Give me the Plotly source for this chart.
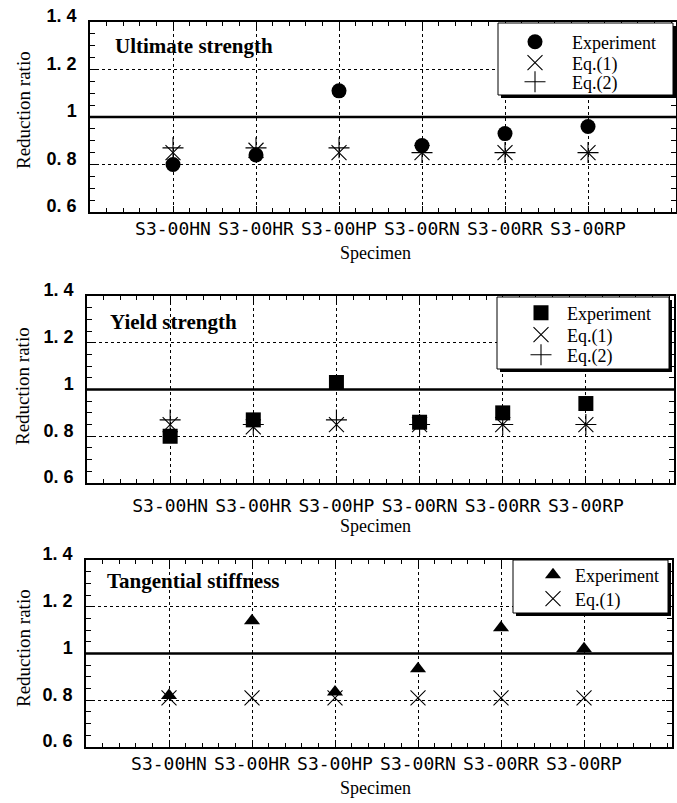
import plotly.graph_objects as go

# ---------------- data ----------------
specimens = ["S3-00HN", "S3-00HR", "S3-00HP", "S3-00RN", "S3-00RR", "S3-00RP"]

ult_experiment = [0.80, 0.84, 1.11, 0.88, 0.93, 0.96]
ult_eq1 = [0.85, 0.86, 0.85, 0.85, 0.85, 0.85]
ult_eq2 = [0.87, 0.87, 0.87, 0.85, 0.85, 0.85]

yld_experiment = [0.80, 0.87, 1.03, 0.86, 0.90, 0.94]
yld_eq1 = [0.85, 0.84, 0.85, 0.85, 0.85, 0.85]
yld_eq2 = [0.87, 0.85, 0.87, 0.85, 0.85, 0.85]

stf_experiment = [0.82, 1.14, 0.835, 0.935, 1.11, 1.02]
stf_eq1 = [0.81, 0.81, 0.81, 0.81, 0.81, 0.81]

y_tickvals = [0.6, 0.8, 1.0, 1.2, 1.4]
y_ticktext = ["0. 6", "0. 8", "1", "1. 2", "1. 4"]

panel_titles = ["Ultimate strength", "Yield strength", "Tangential stiffness"]
series_names = ["Experiment", "Eq.(1)", "Eq.(2)"]
axis_title_y = "Reduction ratio"
axis_title_x = "Specimen"

# ---------------- layout helpers ----------------
W, H = 677, 803
def px(x):
    return x / W
def py(y):
    return 1 - y / H

SERIF = "Liberation Serif, Times New Roman, serif"
x_idx = list(range(len(specimens)))

fig = go.Figure()

panels = [
    dict(exp=ult_experiment, eqs=[ult_eq1, ult_eq2], symbol="circle", esize=15,
         xd=(90, 676), yd=(212, 22),
         box=(498, 23, 673, 95), sym_x=535, gap=37, rows=[42, 63, 82],
         title_xy=(113, 46), ytitle_y=110, xtitle_y=253, xstand=0),
    dict(exp=yld_experiment, eqs=[yld_eq1, yld_eq2], symbol="square", esize=15,
         xd=(87, 674), yd=(483, 296),
         box=(497, 297, 669, 369), sym_x=541, gap=26, rows=[313, 335, 355],
         title_xy=(108, 322), ytitle_y=386, xtitle_y=526, xstand=6),
    dict(exp=stf_experiment, eqs=[stf_eq1], symbol="triangle-up", esize=14,
         xd=(86, 672), yd=(747, 560),
         box=(513, 560, 668, 613), sym_x=553, gap=22, rows=[575, 599],
         title_xy=(105, 581), ytitle_y=648, xtitle_y=788, xstand=0),
]

eq_symbols = ["x-thin-open", "cross-thin-open"]

shapes = []
annotations = []
legend_count = 0

def new_legend(p, row):
    global legend_count
    legend_count += 1
    name = "legend" if legend_count == 1 else "legend" + str(legend_count)
    iw = max(30, 2 * (p["gap"] - 5))
    left = p["sym_x"] - iw / 2 - 5
    fig.update_layout(**{name: dict(
        x=px(left), y=py(p["rows"][row]), xanchor="left", yanchor="middle",
        bgcolor="rgba(0,0,0,0)", borderwidth=0, itemwidth=iw, tracegroupgap=0,
        font=dict(family=SERIF, size=18, color="black"))})
    return name

for i, p in enumerate(panels):
    n = "" if i == 0 else str(i + 1)
    xa, ya = "x" + n, "y" + n
    leg_exp = new_legend(p, 0)
    leg_eq = [new_legend(p, k + 1) for k in range(len(p["eqs"]))]
    # equation markers first (drawn underneath experiment markers)
    for k, eq in enumerate(p["eqs"]):
        fig.add_trace(go.Scatter(
            x=x_idx, y=eq, mode="markers", name=series_names[k + 1],
            xaxis=xa, yaxis=ya, legend=leg_eq[k],
            marker=dict(symbol=eq_symbols[k], size=15, color="black",
                        line=dict(color="black", width=1.1)),
            showlegend=True))
    fig.add_trace(go.Scatter(
        x=x_idx, y=p["exp"], mode="markers", name=series_names[0],
        xaxis=xa, yaxis=ya, legend=leg_exp,
        marker=dict(symbol=p["symbol"], size=p["esize"], color="black",
                    line=dict(width=0)),
        showlegend=True))

    axcommon = dict(showline=True, linecolor="black", linewidth=1.5, mirror="ticks",
                    ticks="inside", tickcolor="black", showgrid=True, automargin=False,
                    gridcolor="black", griddash="dot", gridwidth=1, zeroline=False)
    fig.update_layout(**{
        "xaxis" + n: dict(axcommon, domain=[px(p["xd"][0]), px(p["xd"][1])],
                          anchor=ya, range=[-1.0, 6.06], tickmode="array",
                          tickvals=x_idx, ticktext=specimens, ticklen=6,
                          ticklabelstandoff=p["xstand"],
                          tickfont=dict(family="DejaVu Sans Mono", size=18, color="black"),
                          minor=dict(ticks="inside", tickmode="linear", tick0=0, dtick=0.2,
                                     ticklen=4, tickcolor="black", showgrid=False)),
        "yaxis" + n: dict(axcommon, domain=[py(p["yd"][0]), py(p["yd"][1])],
                          anchor=xa, range=[0.6, 1.4], tickmode="array",
                          tickvals=y_tickvals, ticktext=y_ticktext, ticklen=6,
                          ticklabelstandoff=8, ticklabelshift=-6,
                          tickfont=dict(family="Liberation Sans, Arial", size=18,
                                        color="black", weight="bold"),
                          minor=dict(ticks="inside", tickmode="linear", tick0=0.6, dtick=0.05,
                                     ticklen=5, tickcolor="black", showgrid=False)),
    })

    # thick reference line at 1.0
    shapes.append(dict(type="line", xref=xa + " domain", x0=0, x1=1, yref=ya, y0=1.0, y1=1.0,
                       line=dict(color="black", width=2.5), layer="below"))
    # legend frame with shadow
    x0, y0, x1, y1 = p["box"]
    shapes.append(dict(type="rect", xref="paper", yref="paper",
                       x0=px(x0 + 3), x1=px(x1 + 3), y0=py(y0 + 3), y1=py(y1 + 3),
                       fillcolor="black", line=dict(width=0), layer="above"))
    shapes.append(dict(type="rect", xref="paper", yref="paper",
                       x0=px(x0), x1=px(x1), y0=py(y0), y1=py(y1),
                       fillcolor="white", line=dict(color="black", width=1), layer="above"))
    # panel title
    annotations.append(dict(text="<b>" + panel_titles[i] + "</b>", xref="paper", yref="paper",
                            x=px(p["title_xy"][0]), y=py(p["title_xy"][1]),
                            xanchor="left", yanchor="middle", showarrow=False,
                            font=dict(family=SERIF, size=21, color="black")))
    # axis titles
    annotations.append(dict(text=axis_title_y, xref="paper", yref="paper",
                            x=px(23), y=py(p["ytitle_y"]), textangle=-90,
                            xanchor="center", yanchor="middle", showarrow=False,
                            font=dict(family=SERIF, size=19, color="black")))
    annotations.append(dict(text=axis_title_x, xref="paper", yref="paper",
                            x=px(375), y=py(p["xtitle_y"]),
                            xanchor="center", yanchor="middle", showarrow=False,
                            font=dict(family=SERIF, size=18, color="black")))

fig.update_layout(width=W, height=H, margin=dict(l=0, r=0, t=0, b=0, autoexpand=False),
                  paper_bgcolor="white", plot_bgcolor="white",
                  shapes=shapes, annotations=annotations, showlegend=True)

fig.write_html("out.html", config={"displayModeBar": False},
               post_script="document.body.style.margin='0';document.body.style.padding='0';"
                           "document.documentElement.style.overflow='hidden';")
